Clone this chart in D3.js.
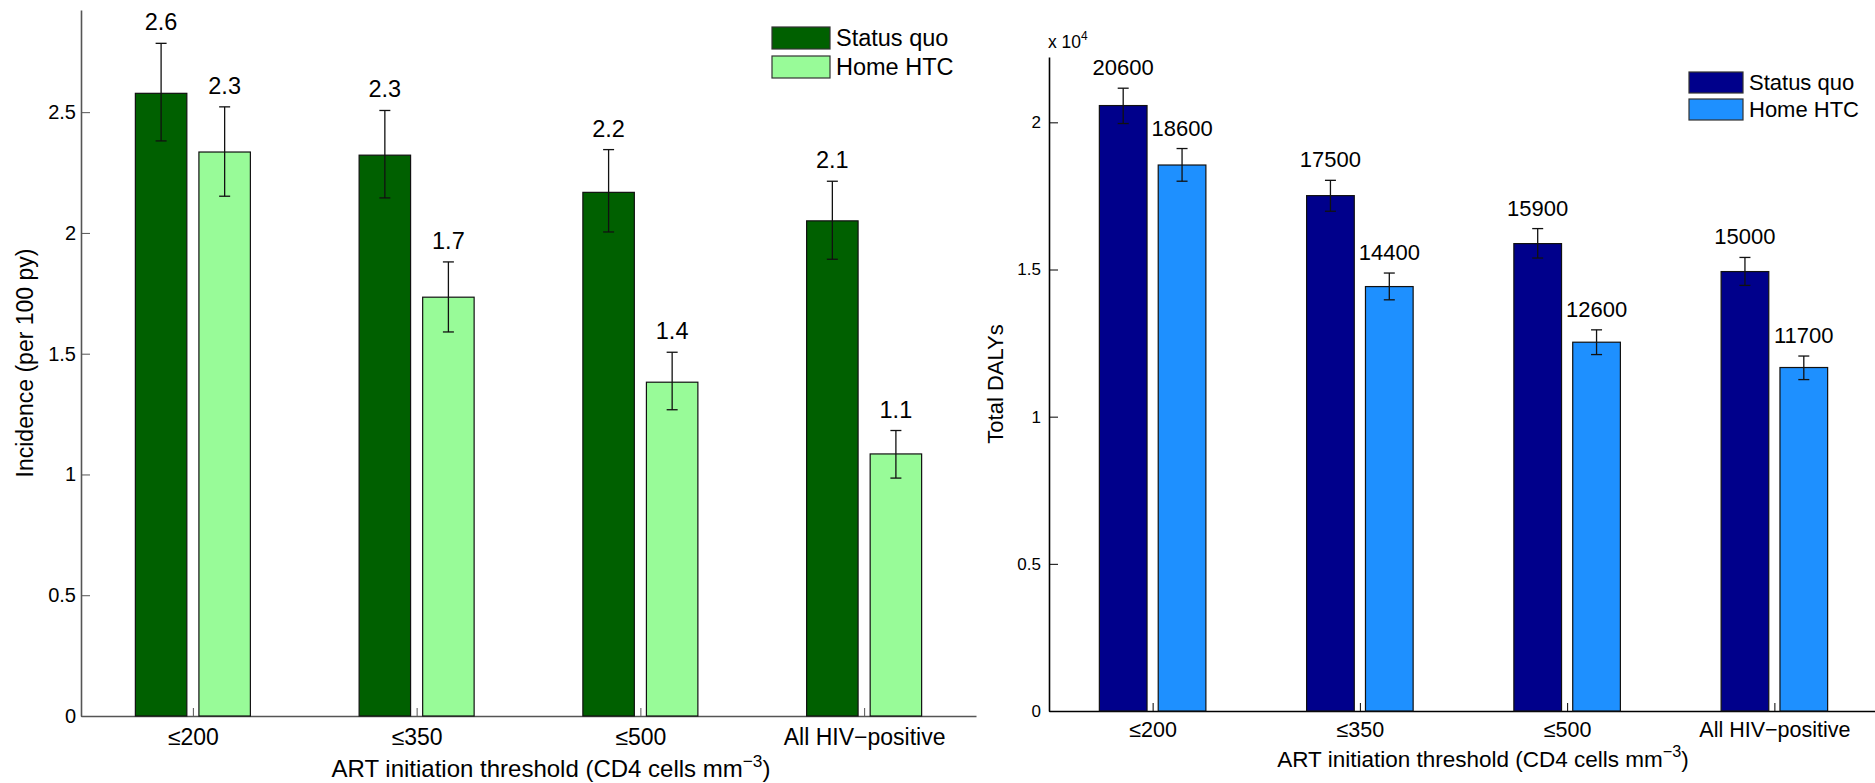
<!DOCTYPE html>
<html>
<head>
<meta charset="utf-8">
<script src="https://cdn.jsdelivr.net/npm/d3@7"></script>
<style>
body { margin: 0; background: #fff; }
svg { display: block; font-family: "Liberation Sans", Arial, Helvetica, sans-serif; }
</style>
</head>
<body>
<div id="chart"></div>
<script>
let width = 1875;
let height = 783;

// categories and series
let categories = ["≤200", "≤350", "≤500", "All HIV\u2212positive"];
let seriesNames = ["Status quo", "Home HTC"];

// left panel: incidence per 100 py
let incSQ = [2.578, 2.322, 2.168, 2.050];
let incSQLo = [2.381, 2.145, 2.004, 1.891];
let incSQHi = [2.785, 2.507, 2.345, 2.214];
let incSQLabels = ["2.6", "2.3", "2.2", "2.1"];
let incHTC = [2.335, 1.734, 1.382, 1.085];
let incHTCLo = [2.152, 1.590, 1.268, 0.985];
let incHTCHi = [2.522, 1.880, 1.506, 1.182];
let incHTCLabels = ["2.3", "1.7", "1.4", "1.1"];
let incTicks = [0, 0.5, 1, 1.5, 2, 2.5];

// right panel: total DALYs
let dalySQ = [20570, 17510, 15880, 14930];
let dalySQLo = [19960, 16980, 15390, 14460];
let dalySQHi = [21160, 18030, 16390, 15410];
let dalySQLabels = ["20600", "17500", "15900", "15000"];
let dalyHTC = [18550, 14420, 12530, 11670];
let dalyHTCLo = [18000, 13970, 12110, 11260];
let dalyHTCHi = [19110, 14880, 12950, 12060];
let dalyHTCLabels = ["18600", "14400", "12600", "11700"];
let dalyTicks = [0, 5000, 10000, 15000, 20000];

let svg = d3.select("#chart")
	.append("svg")
	.attr("width", width).attr("height", height);

function drawPanel(p) {
	let g = svg.append("g");
	let x = d3.scaleLinear().domain([0.5, 4.5]).range([p.left, p.right]);
	let y = d3.scaleLinear().domain([0, p.yMax]).range([p.bottom, p.top]);
	let bw = x(0.23) - x(0);
	let offs = [-0.142, 0.142];

	let series = [
		{ v: p.sq, lo: p.sqLo, hi: p.sqHi, lab: p.sqLabels, color: p.colors[0] },
		{ v: p.htc, lo: p.htcLo, hi: p.htcHi, lab: p.htcLabels, color: p.colors[1] }
	];

	// x axis (ticks point up, labels below)
	let xAxis = g.append("g")
		.attr("transform", `translate(0,${p.bottom})`)
		.call(d3.axisBottom(x).tickValues([1, 2, 3, 4])
			.tickFormat((d, i) => categories[i])
			.tickSizeInner(-8).tickSizeOuter(0).tickPadding(p.xPad));
	xAxis.select(".domain").attr("stroke", p.axisColor).attr("stroke-width", 1.6);
	xAxis.selectAll(".tick line").attr("stroke", p.axisColor);
	xAxis.selectAll(".tick text").attr("font-size", p.xFont).attr("fill", "#000")
		.attr("font-family", "Liberation Sans, Arial, sans-serif");

	// y axis (ticks point right)
	let yAxis = g.append("g")
		.attr("transform", `translate(${p.left},0)`)
		.call(d3.axisLeft(y).tickValues(p.ticks).tickFormat(p.fmt)
			.tickSizeInner(-9).tickSizeOuter(0).tickPadding(p.yPad));
	yAxis.select(".domain").attr("stroke", p.axisColor).attr("stroke-width", 1.6);
	yAxis.selectAll(".tick line").attr("stroke", p.axisColor);
	yAxis.selectAll(".tick text").attr("font-size", p.yFont).attr("fill", "#000")
		.attr("font-family", "Liberation Sans, Arial, sans-serif");

	// bars, error bars, value labels
	series.forEach((s, k) => {
		let sg = g.append("g");
		sg.selectAll("rect").data(s.v).join("rect")
			.attr("x", (d, i) => x(i + 1 + offs[k]) - bw / 2)
			.attr("y", d => y(d))
			.attr("width", bw)
			.attr("height", d => y(0) - y(d))
			.attr("fill", s.color)
			.attr("stroke", "#111").attr("stroke-width", 1.2);

		let cap = 5.5;
		let eg = sg.selectAll(".err").data(s.v).join("g").attr("class", "err")
			.attr("stroke", "#111").attr("stroke-width", 1.3);
		eg.append("line")
			.attr("x1", (d, i) => x(i + 1 + offs[k])).attr("x2", (d, i) => x(i + 1 + offs[k]))
			.attr("y1", (d, i) => y(s.lo[i])).attr("y2", (d, i) => y(s.hi[i]));
		eg.append("line")
			.attr("x1", (d, i) => x(i + 1 + offs[k]) - cap).attr("x2", (d, i) => x(i + 1 + offs[k]) + cap)
			.attr("y1", (d, i) => y(s.hi[i])).attr("y2", (d, i) => y(s.hi[i]));
		eg.append("line")
			.attr("x1", (d, i) => x(i + 1 + offs[k]) - cap).attr("x2", (d, i) => x(i + 1 + offs[k]) + cap)
			.attr("y1", (d, i) => y(s.lo[i])).attr("y2", (d, i) => y(s.lo[i]));

		sg.selectAll(".val").data(s.lab).join("text").attr("class", "val")
			.attr("x", (d, i) => x(i + 1 + offs[k]))
			.attr("y", (d, i) => y(s.hi[i]) - 13)
			.attr("text-anchor", "middle")
			.attr("font-size", p.valFont)
			.text(d => d);
	});

	// legend
	let lg = g.append("g");
	seriesNames.forEach((name, k) => {
		lg.append("rect")
			.attr("x", p.leg.x).attr("y", p.leg.y + k * p.leg.step)
			.attr("width", p.leg.w).attr("height", p.leg.h)
			.attr("fill", p.colors[k]).attr("stroke", "#333").attr("stroke-width", 1.2);
		lg.append("text")
			.attr("x", p.leg.x + p.leg.w + 6)
			.attr("y", p.leg.y + k * p.leg.step + p.leg.h - 3)
			.attr("font-size", p.legFont)
			.text(name);
	});

	// x axis title
	let xt = g.append("text")
		.attr("x", p.xTitleX).attr("y", p.xTitleY)
		.attr("text-anchor", "middle")
		.attr("font-size", p.titleFont);
	xt.append("tspan").text("ART initiation threshold (CD4 cells mm");
	xt.append("tspan").attr("dy", -10).attr("font-size", p.titleFont * 0.72).text("\u22123");
	xt.append("tspan").attr("dy", 10).text(")");

	// y axis title
	g.append("text")
		.attr("transform", `translate(${p.yTitleX},${(p.top + p.bottom) / 2}) rotate(-90)`)
		.attr("text-anchor", "middle")
		.attr("font-size", p.yTitleFont)
		.text(p.yTitle);
	return g;
}

drawPanel({
	left: 81, right: 976, top: 10, bottom: 716, yMax: 2.923,
	sq: incSQ, sqLo: incSQLo, sqHi: incSQHi, sqLabels: incSQLabels,
	htc: incHTC, htcLo: incHTCLo, htcHi: incHTCHi, htcLabels: incHTCLabels,
	colors: ["#006000", "#98FB98"],
	ticks: incTicks, fmt: d => d3.format("")(d),
	axisColor: "#555",
	xPad: 13, yPad: 5, xFont: 23, yFont: 20, valFont: 23.5, legFont: 23.5,
	titleFont: 24, yTitleFont: 23,
	leg: { x: 772, y: 27, w: 58, h: 22, step: 29 },
	xTitleX: 551, xTitleY: 777,
	yTitle: "Incidence (per 100 py)", yTitleX: 33
});

let right = drawPanel({
	left: 1049, right: 1878, top: 57, bottom: 711, yMax: 22220,
	sq: dalySQ, sqLo: dalySQLo, sqHi: dalySQHi, sqLabels: dalySQLabels,
	htc: dalyHTC, htcLo: dalyHTCLo, htcHi: dalyHTCHi, htcLabels: dalyHTCLabels,
	colors: ["#00008B", "#1E90FF"],
	ticks: dalyTicks, fmt: d => d3.format("")(d / 1e4),
	axisColor: "#000",
	xPad: 11, yPad: 8, xFont: 21.5, yFont: 17, valFont: 22, legFont: 22,
	titleFont: 22.5, yTitleFont: 22,
	leg: { x: 1689, y: 72, w: 54, h: 21, step: 27 },
	xTitleX: 1483, xTitleY: 767,
	yTitle: "Total DALYs", yTitleX: 1003
});

// exponent note for the right axis
let ex = right.append("text").attr("x", 1048).attr("y", 48).attr("font-size", 17.5);
ex.append("tspan").text("x 10");
ex.append("tspan").attr("dy", -8).attr("font-size", 12).text("4");
</script>
</body>
</html>
